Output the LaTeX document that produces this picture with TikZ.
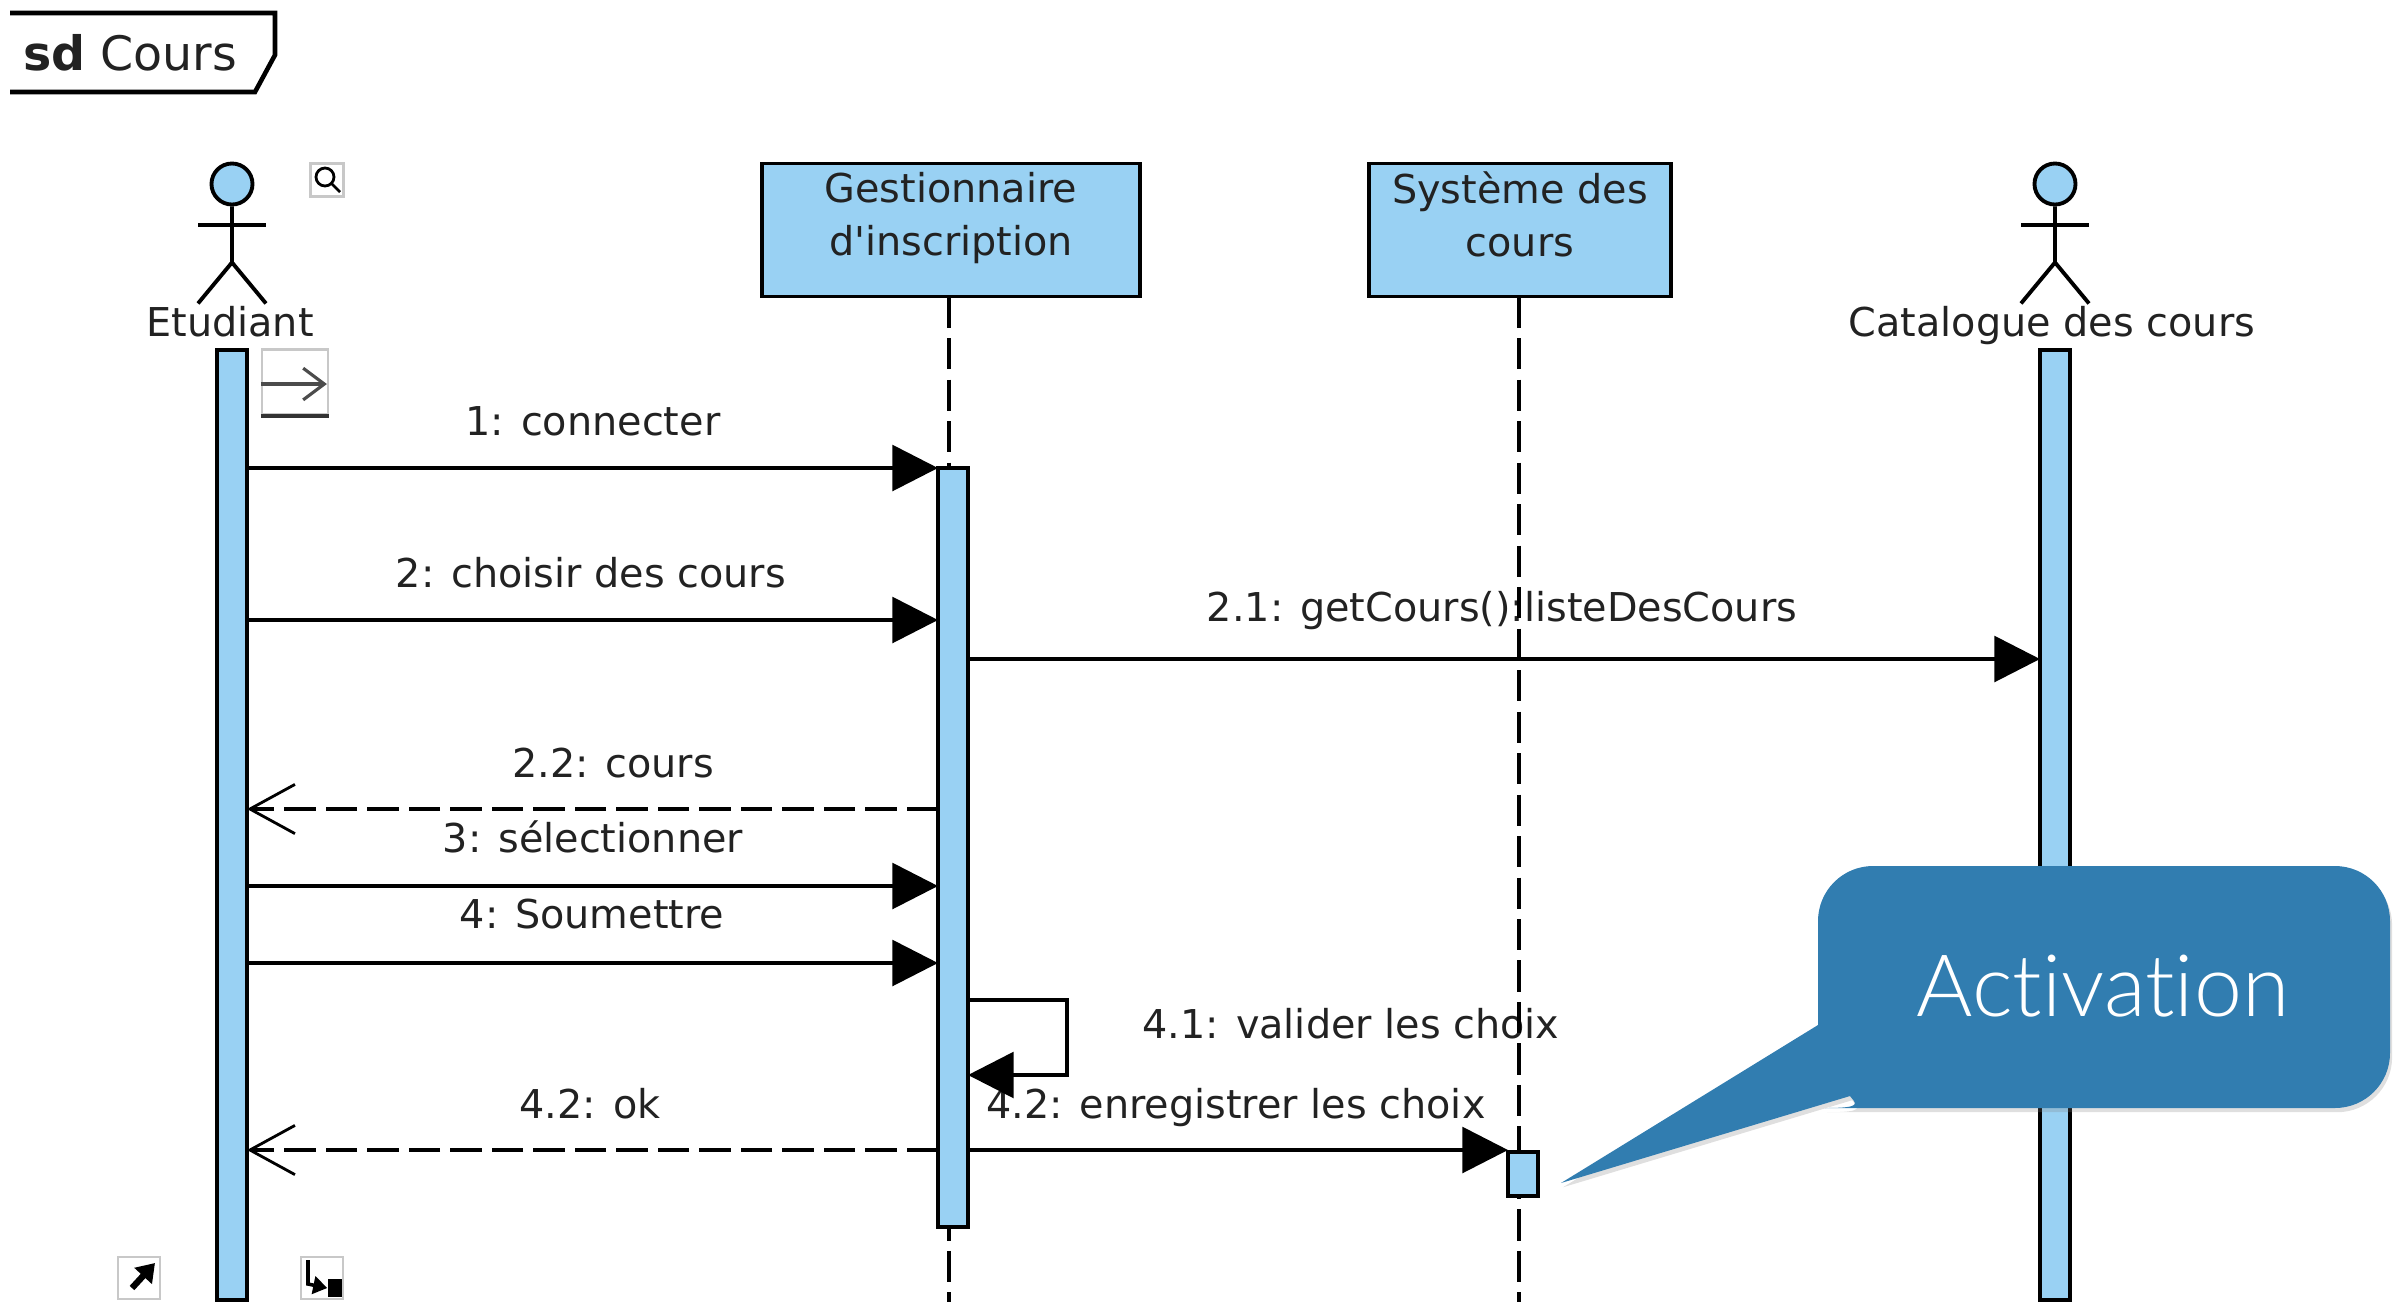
\documentclass[tikz,border=0pt]{standalone}
\usepackage{fontspec}
\usetikzlibrary{arrows.meta,shadows}
\setmainfont[Ligatures=TeXOff]{DejaVu Sans}
\newfontfamily\calloutfont[Ligatures=NoCommon]{Lato Light}
\definecolor{lifeblue}{HTML}{99D1F3}
\definecolor{calloutblue}{HTML}{317DB0}
\definecolor{icongray}{HTML}{C8C8C8}
\definecolor{inktext}{HTML}{222222}
\begin{document}
\begin{tikzpicture}[x=0.01cm, y=-0.01cm,
    bar/.style = {draw, fill=lifeblue, line width=1.1pt, minimum width=0.3cm, inner sep=0, outer sep=0},
    box/.style = {draw, fill=lifeblue, line width=1.1pt, minimum height=1.33cm, align=center, inner sep=0, outer sep=0, font=\fontsize{11.3}{15}\selectfont, text=inktext,
        execute at begin node=\rule{0pt}{9pt}, execute at end node=\rule[-9pt]{0pt}{9pt}},
    msglabel/.style = {font=\fontsize{11.3}{15}\selectfont, text=inktext, inner sep=0, text height=8.5pt, text depth=2.5pt, yshift=-1.1pt},
    icon/.style = {draw=icongray, line width=0.6pt, inner sep=0, minimum size=0.42cm},
    life/.style = {line width=0.9pt, dash pattern=on 8.9pt off 2.9pt},
    call/.style = {line width=1.1pt, -{Triangle[length=13pt, width=13pt]}},
    reply/.style = {line width=1.1pt, dash pattern=on 8.9pt off 2.9pt, -{Straight Barb[length=12.8pt, width=14pt, line width=0.8pt]}},
    actor/.style = {line width=1.1pt}]
        \useasboundingbox (0,0) rectangle (2408,1302);

        \draw[line width=1.3pt] (10,13) -- (275,13) -- (275,55) -- (255,92) -- (10,92);
        \node[inner sep=0, text=inktext, font=\fontsize{13.5}{16}\selectfont] (frame) at (130,53) {\textbf{sd} Cours};

        \node[msglabel] (l1) at (593,421) {1: connecter};
        \node[msglabel] (l2) at (591,573) {2: choisir des cours};
        \node[msglabel] (l21) at (1502,607) {2.1: getCours():listeDesCours};
        \node[msglabel] (l22) at (613,763) {2.2: cours};
        \node[msglabel] (l3) at (593,838) {3: sélectionner};
        \node[msglabel] (l4) at (592,914) {4: Soumettre};
        \node[msglabel] (l41) at (1351,1024) {4.1: valider les choix};
        \node[msglabel] (l42ok) at (590,1104) {4.2: ok};
        \node[msglabel] (l42) at (1236,1104) {4.2: enregistrer les choix};

        \node[box, minimum width=3.77cm] (gest) at (951,230) {Gestionnaire\\d'inscription};
        \node[box, minimum width=3.01cm] (sys) at (1520,230) {Système des\\cours};
        \coordinate (gestend) at (949,1302);
        \coordinate (sysend) at (1519,1302);
        \draw[life] (gest.south -| gestend) -- (gestend);
        \draw[life] (sys.south -| sysend) -- (sysend);

        \node[bar, minimum height=9.5cm] (etubar) at (232,825) {};
        \node[bar, minimum height=9.5cm] (catbar) at (2055,825) {};
        \node[bar, minimum height=7.59cm] (gestbar) at (953,847.5) {};
        \node[bar, minimum height=0.44cm] (sysbar) at (1523,1174) {};

        \foreach \who/\x in {etu/232, cat/2055} {
            \node[draw, circle, fill=lifeblue, actor, minimum size=0.41cm, inner sep=0] (\who head) at (\x,184) {};
            \draw[actor] (\who head.south) -- ++(0,56) coordinate (\who hip) -- ++(-34,41);
            \draw[actor] (\who hip) -- ++(34,41);
            \draw[actor] (\x-34,225) -- (\x+34,225);
        }
        \node[msglabel] (etuname) at (230,322) {Etudiant};
        \node[msglabel] (catname) at (2052,322) {Catalogue des cours};

        \coordinate (m1) at (0,468);
        \coordinate (m2) at (0,620);
        \coordinate (m21) at (0,659);
        \coordinate (m22) at (0,809);
        \coordinate (m3) at (0,886);
        \coordinate (m4) at (0,963);
        \coordinate (m42) at (0,1150);
        \draw[call] (etubar.east |- m1) -- (gestbar.west |- m1);
        \draw[call] (etubar.east |- m2) -- (gestbar.west |- m2);
        \draw[call] (gestbar.east |- m21) -- (catbar.west |- m21);
        \draw[reply] (gestbar.west |- m22) -- (etubar.east |- m22);
        \draw[call] (etubar.east |- m3) -- (gestbar.west |- m3);
        \draw[call] (etubar.east |- m4) -- (gestbar.west |- m4);
        \draw[call] (gestbar.east |- 0,1000) -- (1067,1000) -- (1067,1075) -- (gestbar.east |- 0,1075);
        \draw[reply] (gestbar.west |- m42) -- (etubar.east |- m42);
        \draw[call] (gestbar.east |- m42) -- (sysbar.west |- m42);

        \node[icon, minimum size=0.33cm] (zoomicon) at (327,180) {};
        \draw[line width=0.8pt] (325,177) circle (9);
        \draw[line width=0.8pt] (332,184) -- (340,192);
        \node[icon, minimum width=0.66cm, minimum height=0.65cm] (nexticon) at (295,382) {};
        \draw[line width=0.9pt, draw=black!70, -{Straight Barb[length=6pt, width=9pt]}] (nexticon.west) ++(0,2) -- ++(66,0);
        \draw[line width=1.1pt, draw=black!80] (nexticon.south west) -- (nexticon.south east);
        \node[icon] (upicon) at (139,1278) {};
        \coordinate (upfoot) at (132,1288);
        \coordinate (uptip) at (155,1263);
        \draw[line width=1.8pt, -{Triangle[length=5pt, width=6.5pt]}] (upfoot) -- (uptip);
        \node[icon] (callicon) at (322,1278) {};
        \node[fill=black, inner sep=0, minimum width=0.14cm, minimum height=0.18cm] (calldot) at (335,1288) {};
        \draw[line width=1pt, -{Triangle[length=4pt, width=5pt]}] (308,1260) -- (308,1284) -- (calldot.west);

        \fill[calloutblue, drop shadow={shadow xshift=0.6pt, shadow yshift=-1.2pt, opacity=0.25}]
            (1561,1183) -- (1818,1025) [rounded corners=0.55cm] -- (1818,866) -- (2390,866) -- (2390,1108) -- (1880,1108)
            [sharp corners] .. controls (1865,1108) and (1855,1103) .. (1850,1096) -- cycle;
        \node[inner sep=0, text=white, font=\calloutfont\fontsize{24.5}{30}\selectfont] (activation) at (2103,986) {Activation};
    \end{tikzpicture}
\end{document}
